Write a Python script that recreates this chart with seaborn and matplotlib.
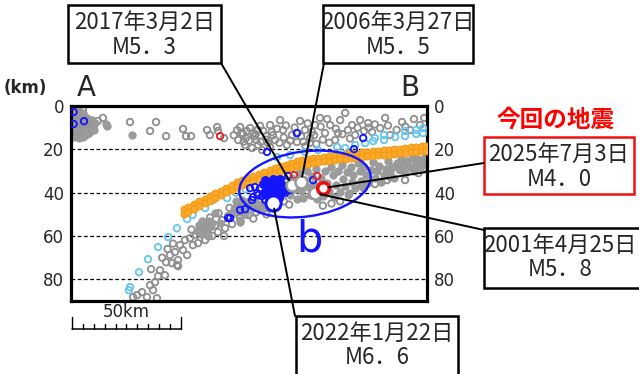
import matplotlib
matplotlib.use("Agg")
import matplotlib.pyplot as plt
from matplotlib.patches import Ellipse, Rectangle
import seaborn as sns

sns.set_style("white")
plt.rcParams['font.family'] = ['Noto Sans CJK JP', 'DejaVu Sans']

# ---- data: horizontal distance from A (km), depth (km) ----
gray_open_x = [2.3, 5.5, 12.4, 14.7, 27.2, 36.4, 39.2, 43.8, 51.6, 53, 55.3, 62.7, 64, 67.3, 67.7, 70.5,
               76.5, 77.9, 79.3, 80.6, 82.5, 83.9, 85.3, 87.1, 88.5, 89.9, 91.7, 90.8, 94, 96.3, 97.7,
               99.5, 101.8, 104.1, 105.5, 107.8, 110.1, 112.4, 114.7, 117, 119.4, 121.7, 124, 126.3,
               127.6, 129.5, 130.9, 133.2, 136.9, 138.7, 142.4, 144.7, 147, 152.5, 156.2, 160.8, 162.7,
               77, 80.2, 83.4, 86.2, 88, 91.7, 78.5, 81, 84.5, 86, 92.5, 95, 99, 103, 109, 111, 115, 118,
               122, 125, 132, 135, 140, 146, 150, 154, 158, 116, 113, 108, 106,
               75, 79.5, 82, 85, 87.5, 90, 93, 96, 98, 101, 104, 107, 110, 112, 119, 123, 128.5, 137,
               28.6, 30.4, 32.7, 35, 36.4, 37.8, 38.7, 39.6, 40.1, 41, 43.8, 43.3, 45.6, 46.5, 47.9, 49.3,
               49.3, 50.2, 51.6, 52.5, 53.5, 54.8, 56.2, 57.6, 58.5, 59.4, 61.8, 63.1, 65, 66.4, 67.7,
               69.6, 71, 72.4, 74.2, 75.6, 77.9, 80.2, 81.6, 83.4, 85.3, 87.1, 89.4, 91.7, 36.9, 48.8,
               44.5, 47, 42, 55.5, 60.5, 64, 68, 70.5, 73, 78.5, 84, 86.5, 90, 95, 98, 100.5,
               147, 151.6, 157.6, 145.6, 153.9, 140, 135, 128, 124, 131, 160, 163, 120, 116]
gray_open_d = [0.9, 1.8, 6.9, 5.5, 7.4, 11.5, 7.4, 13.9, 10.6, 13.9, 13.9, 11.1, 13.4, 9.7, 11.5, 14.8,
               11.1, 9.7, 12.9, 14.8, 10.2, 12.5, 15.7, 9.2, 11.5, 13.9, 8.8, 17.1, 15.7, 6.5, 11.1,
               18, 13.4, 16.6, 6.9, 11.1, 14.8, 8.8, 5.5, 12.5, 8.8, 15.7, 6.5, 3.2,
               11.1, 8.8, 13.4, 6.5, 7.9, 12, 10.2, 5.5, 13.4, 7.4, 11.1, 8.8, 5.5,
               15.7, 18, 19.4, 18, 20.3, 18.9, 12.5, 11.5, 14, 11, 12, 10.5, 9, 10, 8, 12, 9.5, 6,
               10.5, 13, 10, 11.5, 8.5, 9, 11, 9.5, 6, 15.5, 17.5, 18.5, 14,
               13.5, 16.5, 16, 13, 16.5, 15.5, 13.5, 17, 14.5, 16, 12.5, 16.5, 17, 13.5, 17, 12.5, 15, 10,
               88.2, 87.3, 85.9, 88.2, 82.7, 85, 81.3, 88.7, 78.5, 75.8, 72.1, 78.1, 68.8, 72.5, 67.4, 71.1,
               73.9, 64.2, 66.5, 61.9, 68.8, 61, 64.2, 59.6, 63.3, 58.2, 61.9, 56.4, 60, 55, 58.2,
               52.7, 56.4, 50.8, 54.5, 49, 51.7, 47.1, 50.3, 45.7, 49, 44.3, 47.1, 43, 75.3, 73.4,
               66, 63.5, 70, 57, 55, 51.5, 49.5, 60, 47, 45, 52, 46, 50, 46.5, 44, 45.5,
               32.8, 29.6, 26.3, 34.2, 34.2, 36, 38, 41, 44, 36.5, 31, 28.5, 45, 46]

gray_fill_x = [0.5, 1.5, 3, 1, 2.5, 4, 1, 3, 5, 7, 2, 4, 6, 8, 1, 3, 5, 7, 9, 0.5, 2.5, 10, 16.6, 16,
               28, 4.5, 6.5, 8.5, 0.5, 2, 3.5, 5.5, 6, 7.5, 8, 9.5, 0.8, 2, 4, 6, 9, 10.5, 11, 7.5,
               5.5, 3.5, 1.5,
               59, 60.5, 62, 63.5, 61, 62.5, 64, 65, 60, 63, 58, 66.4, 68.7, 77.9, 77.9, 75, 76.5, 79,
               81, 74, 76, 78, 80, 82, 84, 86, 88,
               100, 101, 102, 103, 104, 105, 106, 107, 108, 108.5, 109, 110, 111, 112, 113, 113.5, 114,
               115, 116, 117, 118, 119, 120, 120.5, 121, 122, 123, 124, 125, 125.5, 126, 127, 128, 129,
               129.5, 130, 131, 132, 133, 133.5, 134, 135, 136, 137, 138, 139, 140, 141, 142, 143, 144,
               145, 146, 147, 148, 149, 150, 151, 152, 153, 154, 155, 156, 157, 158, 159, 160, 161, 162,
               163, 163.5]
gray_fill_d = [1, 2.5, 1.5, 4, 5, 4, 6.5, 7, 6.5, 7.5, 9, 9.5, 9, 10, 11, 12, 12, 11.5, 8.5, 13, 13.5,
               9.5, 9.2, 8.5, 13.4, 14, 13.5, 12.5, 0.5, 3.5, 3, 3, 5, 5.5, 7, 6.5, 10, 11, 11, 10.5,
               11, 11, 8, 13, 14.5, 14.8, 14.5,
               55, 53, 54.5, 53, 57, 58.5, 56, 54, 59, 60, 57.5, 49.4, 54, 53.6, 52.7, 47.5, 45, 43.5,
               46, 50, 44, 47, 50, 44, 47, 45, 47.5,
               36, 41, 33, 38.5, 43, 31, 39, 42.5, 34, 30, 37.5, 41, 32.5, 36, 29, 43, 39.5,
               33, 41.5, 30, 35.5, 39, 28, 32, 42, 36.5, 30, 39.5, 27, 33.5, 37, 30.5, 40, 28,
               35, 32, 38, 26.5, 30, 34.5, 37, 28, 32, 35.5, 29.5, 26, 33, 30, 27.5, 35, 32,
               29, 25.5, 30.5, 28, 33, 26.5, 29, 24.5, 27.5, 31, 25.5, 28, 24, 30, 26.5, 24.5, 28, 25.5,
               23.5, 27]

orange_x = [52, 54, 56.5, 59, 61.5, 64, 66.5, 69, 71.5, 74, 76.5, 79, 81.5, 84, 86.5, 89, 91.5, 94,
            96.5, 99, 101.5, 104, 106.5, 109, 111.5, 114, 116.5, 119, 121.5, 124, 126.5, 129, 131.5,
            134, 136.5, 139, 141.5, 144, 146.5, 149, 151.5, 154, 156.5, 159, 161.5, 163.5]
orange_top = [47.7, 46.6, 45.3, 43.9, 42.7, 41.5, 40.2, 39.0, 37.7, 36.5, 35.3, 34.1, 33.2, 32.3, 31.3,
              30.4, 29.5, 28.7, 27.9, 27.2, 26.4, 25.6, 25.0, 24.6, 24.2, 23.8, 23.4, 23.0, 22.7, 22.4,
              22.1, 21.9, 21.6, 21.3, 21.1, 20.9, 20.6, 20.4, 20.2, 19.9, 19.7, 19.4, 19.1, 18.9, 18.6, 18.4]
orange_bottom = [49.9, 48.8, 47.5, 46.1, 44.9, 43.7, 42.4, 41.2, 39.9, 38.7, 37.5, 36.3, 35.4, 34.5, 33.5,
                 32.6, 31.7, 30.9, 30.1, 29.4, 28.6, 27.8, 27.2, 26.8, 26.4, 26.0, 25.6, 25.2, 24.9, 24.6,
                 24.3, 24.1, 23.8, 23.5, 23.3, 23.1, 22.8, 22.6, 22.4, 22.1, 21.9, 21.6, 21.3, 21.1, 20.8, 20.6]

lblue_x = [26.7, 27.2, 31.3, 35.5, 40.1, 44.7, 48.8, 53.5, 56, 61.8, 65.4, 71.9, 76, 80.5, 94.9, 100.9,
           107.8, 113.8, 122.6, 126.3, 130.9, 135.5, 139.2, 140, 144.2, 144.2, 149.3, 153.9, 153.9, 159,
           159, 162.2, 162.2]
lblue_d = [85, 83.6, 76.7, 70.7, 65.1, 60.5, 56.4, 52.2, 50.3, 47.1, 43.4, 42.5, 40, 38.5, 23.6, 22.6,
           21.2, 20.3, 18.9, 19.4, 18, 17.1, 16.2, 14.8, 15.7, 13.4, 14.3, 13.9, 11.5, 12.9,
           11.1, 12.5, 10.2]

blue_open_x = [1.2, 1.2, 6, 104.1, 90.3, 134.6, 130.4, 73.3, 77.9, 80.2, 82.5, 84.8, 86.2, 88, 83.4, 89.4,
               98.6, 100.9, 100, 111.5, 83.9, 85.7, 87, 72.4]
blue_open_d = [2.8, 8.3, 7, 12.5, 21.2, 14.8, 19.9, 51.7, 48, 47.6, 37.9, 37.4, 41.1, 41.6, 43.4, 43.4,
               40.2, 38.8, 32.3, 34.2, 42, 40.2, 38, 51.7]

blue_fill_x = [88.5, 89.5, 90, 90.5, 91.5, 92, 92.5, 93, 93.5, 94, 94.5, 95, 95.5, 96, 96.5, 97, 97.5, 91,
               93, 95, 89, 96, 94, 92]
blue_fill_d = [36, 34, 38, 41, 35, 37.5, 40, 33.5, 36, 38.5, 42, 35, 37, 40, 33.5, 36.5, 39, 39.5,
               41.5, 39, 40, 42.5, 34, 35.5]

red_x = [68.7, 102.8, 113.4]
red_d = [13.9, 31.9, 32.3]

# notable events
past_x = [101.8, 106, 112.4]          # 2017, 2006, 2001
past_d = [36.5, 35.1, 40.2]
ev2022 = (93.1, 44.8)
ev2025 = (116.1, 37.9)

depth_ticks = [0, 20, 40, 60, 80]

GRAY = '#8e8e8e'
BLUE = '#1414ff'

fig = plt.figure(figsize=(6.39, 3.74), dpi=100)
ax = fig.add_axes([71 / 639, 1 - 301 / 374, 356 / 639, 195 / 374])

for d in depth_ticks[1:]:
    ax.axhline(d, color='k', lw=0.9, ls=(0, (3, 2)), zorder=0.5)

sns.scatterplot(x=gray_open_x, y=gray_open_d, ax=ax, s=22, color=GRAY, facecolor='none',
                edgecolor=GRAY, linewidth=1.3, zorder=2)
sns.scatterplot(x=gray_fill_x, y=gray_fill_d, ax=ax, s=28, color='#9c9c9c', edgecolor='#959595',
                linewidth=0.6, zorder=2)
sns.scatterplot(x=lblue_x, y=lblue_d, ax=ax, s=22, color='#66c4ee', facecolor='none',
                edgecolor='#66c4ee', linewidth=1.3, zorder=3)
sns.scatterplot(x=orange_x + orange_x, y=orange_top + orange_bottom, ax=ax, s=24, color='#fbaa2a',
                edgecolor='#f39a16', linewidth=0.8, zorder=3)
sns.scatterplot(x=blue_open_x, y=blue_open_d, ax=ax, s=22, color=BLUE, facecolor='none',
                edgecolor=BLUE, linewidth=1.3, zorder=4)
sns.scatterplot(x=blue_fill_x, y=blue_fill_d, ax=ax, s=34, color=BLUE, edgecolor=BLUE,
                linewidth=0.6, zorder=4)
sns.scatterplot(x=red_x, y=red_d, ax=ax, s=22, color='#e3202a', facecolor='none',
                edgecolor='#e3202a', linewidth=1.3, zorder=4)

sns.scatterplot(x=past_x, y=past_d, ax=ax, s=75, color='white', edgecolor='#999999',
                linewidth=1.8, zorder=6)
sns.scatterplot(x=[ev2022[0]], y=[ev2022[1]], ax=ax, s=120, color='white', edgecolor=BLUE,
                linewidth=2.2, zorder=6)
sns.scatterplot(x=[ev2025[0]], y=[ev2025[1]], ax=ax, s=70, color='white', edgecolor='#ee1111',
                linewidth=2.6, zorder=7)

ax.add_patch(Ellipse((107.8, 36), 61, 30, angle=-8, fill=False, edgecolor=BLUE, lw=1.7, zorder=8))
ax.text(110, 61.5, 'b', color=BLUE, fontsize=30, ha='center', va='center', family='DejaVu Sans')

ax.set_xlim(0, 164)
ax.set_ylim(90, 0)
ax.set_xticks([])
ax.set_yticks(depth_ticks)
ax.set_yticklabels([str(t) for t in depth_ticks], family='DejaVu Sans')
ax.tick_params(axis='y', length=0, labelsize=12, pad=5, labelleft=True, labelright=True)
ax.set_xlabel('')
ax.set_ylabel('')
for sp in ax.spines.values():
    sp.set_linewidth(2.3)
    sp.set_color('k')
    sp.set_visible(True)

# scale bar (50 km, ticks every 5 km)
ax.plot([0.5, 50.5], [103, 103], color='k', lw=1.1, clip_on=False)
for k in range(11):
    top = 97.5 if k in (0, 10) else 100.6
    ax.plot([0.5 + 5 * k] * 2, [top, 103], color='k', lw=1.0, clip_on=False)
ax.text(25.5, 95.3, '50km', fontsize=12, ha='center', va='center', family='DejaVu Sans')

fig.text(86 / 639, 1 - 88 / 374, 'A', fontsize=20, ha='center', va='center', family='DejaVu Sans')
fig.text(410 / 639, 1 - 88 / 374, 'B', fontsize=20, ha='center', va='center', family='DejaVu Sans')
fig.text(25 / 639, 1 - 88 / 374, '(km)', fontsize=12, fontweight='bold', ha='center', va='center',
         family='DejaVu Sans')

# overlay in figure pixels for call-out boxes
ov = fig.add_axes([0, 0, 1, 1], zorder=5)
ov.set_xlim(0, 639)
ov.set_ylim(374, 0)
ov.axis('off')
ov.patch.set_alpha(0)

boxes = [
    ((68, 5, 153, 58), 'k', '2017年3月2日', 'M5．3', (221, 63), (past_x[0], past_d[0])),
    ((323, 5, 150, 58), 'k', '2006年3月27日', 'M5．5', (324, 63), (past_x[1], past_d[1])),
    ((484, 137, 150, 57), '#ee1111', '2025年7月3日', 'M4．0', (484, 163), ev2025),
    ((484, 228, 170, 60), 'k', '2001年4月25日', 'M5．8', (484, 230), (past_x[2], past_d[2])),
    ((296, 316, 162, 70), 'k', '2022年1月22日', 'M6．6', (295, 316), ev2022),
]
for (bx, by, bw, bh), ec, l1, l2, anchor, ev in boxes:
    ov.annotate('', xy=ev, xycoords=ax.transData, xytext=anchor, textcoords='data',
                arrowprops=dict(arrowstyle='-', color='k', lw=1.4, shrinkA=0, shrinkB=4))
    ov.add_patch(Rectangle((bx, by), bw, bh, facecolor='white', edgecolor=ec, lw=1.8))
    cx = bx + 76 if bw > 165 else bx + bw / 2
    ov.text(cx, by + 17, l1, fontsize=16, ha='center', va='center')
    ov.text(cx, by + 42, l2, fontsize=16, ha='center', va='center')

ov.text(556, 120, '今回の地震', fontsize=17, color='#ff0000', fontweight='bold',
        ha='center', va='center')

fig.savefig('out.png', dpi=100)
